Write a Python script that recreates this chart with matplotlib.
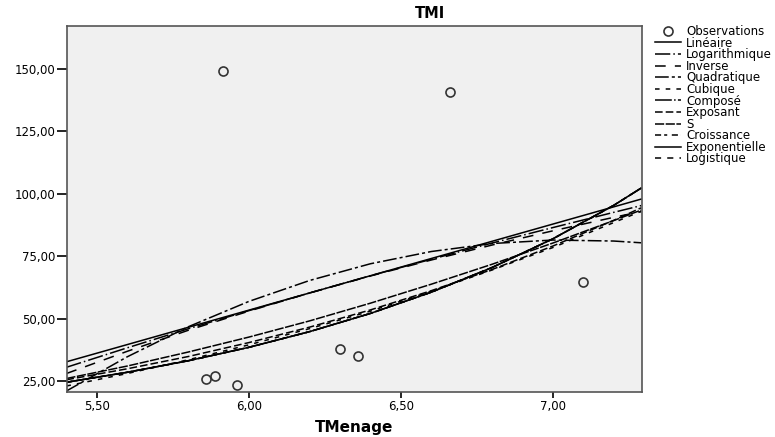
import matplotlib
matplotlib.use('Agg')
import matplotlib.pyplot as plt
from matplotlib.ticker import FuncFormatter

# observations (TMenage, TMI)
obs_x = [5.86, 5.89, 5.96, 5.915, 6.30, 6.36, 6.66, 7.10]
obs_y = [25.8, 27.0, 23.4, 149.2, 37.8, 35.0, 140.8, 64.7]

# fitted curves on a common grid
grid_x = [5.40, 5.60, 5.80, 6.00, 6.20, 6.40, 6.60, 6.80, 7.00, 7.20, 7.29]
lineaire = [32.7, 39.6, 46.5, 53.4, 60.3, 67.2, 74.1, 81.0, 87.9, 94.8, 97.9]
logarithmique = [30.5, 38.3, 45.9, 53.2, 60.3, 67.2, 73.8, 80.3, 86.5, 92.6, 95.3]
inverse = [28.0, 36.9, 45.3, 53.0, 60.3, 67.1, 73.5, 79.5, 85.2, 90.6, 92.9]
quadratique = [21.0, 34.7, 46.7, 56.9, 65.3, 72.0, 76.9, 80.1, 81.5, 81.1, 80.4]
cubique = [23.0, 28.0, 33.5, 39.5, 46.0, 53.0, 61.0, 69.5, 78.5, 88.5, 93.0]
compose = [24.5, 28.5, 33.1, 38.5, 44.8, 52.1, 60.6, 70.5, 82.0, 95.4, 102.3]
exposant = [25.5, 29.9, 34.8, 40.4, 46.6, 53.5, 61.2, 69.7, 79.1, 89.4, 94.4]
s_curve = [26.0, 31.0, 36.6, 42.6, 49.1, 56.2, 63.8, 71.8, 80.3, 89.3, 93.5]
croissance = compose
exponentielle = compose
logistique = compose

x_ticks = [5.5, 6.0, 6.5, 7.0]
y_ticks = [25, 50, 75, 100, 125, 150]

curves = [
    ('Linéaire', lineaire, '-'),
    ('Logarithmique', logarithmique, (0, (10, 2, 1, 2))),
    ('Inverse', inverse, (0, (7, 6))),
    ('Quadratique', quadratique, (0, (9, 2, 2, 2))),
    ('Cubique', cubique, (0, (3, 4))),
    ('Composé', compose, (0, (11, 1.5, 1, 1.5))),
    ('Exposant', exposant, (0, (5, 2))),
    ('S', s_curve, (0, (6, 1))),
    ('Croissance', croissance, (0, (4, 2, 2, 3))),
    ('Exponentielle', exponentielle, '-'),
    ('Logistique', logistique, (0, (4, 4))),
]

plt.rcParams['font.family'] = ['DejaVu Sans']

fig = plt.figure(figsize=(7.75, 4.37), dpi=100)
ax = fig.add_axes([66.7 / 775, 45 / 437, (642 - 66.7) / 775, (392 - 25.7) / 437])
ax.set_facecolor('#f0f0f0')

handles = []
h, = ax.plot(obs_x, obs_y, 'o', ms=6.5, mfc='none', mec='#333333', mew=1.2,
             label='Observations', zorder=5)
handles.append(h)
for name, vals, ls in curves:
    h, = ax.plot(grid_x, vals, color='black', lw=1.1, linestyle=ls, label=name)
    handles.append(h)

ax.set_xlim(5.401, 7.293)
ax.set_ylim(20.6, 167.4)
ax.set_xticks(x_ticks)
ax.set_yticks(y_ticks)
fmt = FuncFormatter(lambda v, p: f'{v:.2f}'.replace('.', ','))
ax.xaxis.set_major_formatter(fmt)
ax.yaxis.set_major_formatter(fmt)
ax.tick_params(axis='x', length=4, width=1.2, labelsize=8.5, pad=2)
ax.tick_params(axis='y', length=7, width=1.2, labelsize=8.5, pad=1)
for sp in ax.spines.values():
    sp.set_color('#555555')
    sp.set_linewidth(1.2)

ax.set_xlabel('TMenage', fontsize=11, fontweight='bold', labelpad=5)
fig.text(430 / 775, 1 - 14 / 437, 'TMI', ha='center', va='center',
         fontsize=10.5, fontweight='bold')

fig.legend(handles=handles, loc='upper left', bbox_to_anchor=(655 / 775, 1 - 25 / 437),
           frameon=False, fontsize=8.5, handlelength=2.2, handletextpad=0.45,
           labelspacing=-0.12, borderaxespad=0, borderpad=0)

plt.savefig('out.png', dpi=100)
